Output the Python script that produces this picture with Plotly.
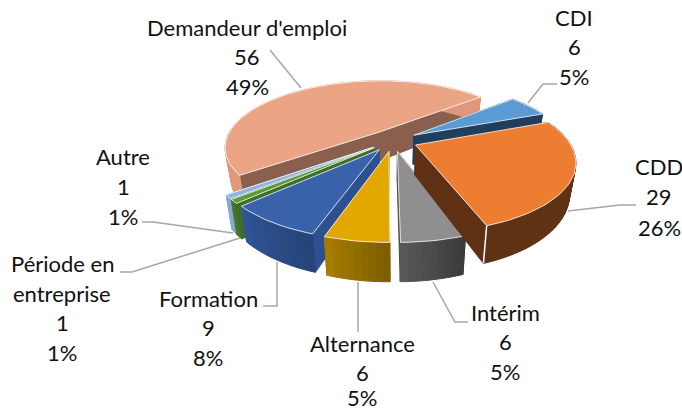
import numpy as np
import plotly.graph_objects as go

# ---- data ----
categories = ["CDI", "CDD", "Intérim", "Alternance", "Formation", "Période en entreprise", "Autre", "Demandeur d'emploi"]
values = [6, 29, 6, 6, 9, 1, 1, 56]
percents = ["5%", "26%", "5%", "5%", "8%", "1%", "1%", "49%"]
label_lines = [["CDI"], ["CDD"], ["Intérim"], ["Alternance"], ["Formation"], ["Période en", "entreprise"], ["Autre"], ["Demandeur d'emploi"]]

# ---- styles ----
top_col = ["#5B9BD5", "#ED7D31", "#8F8F8F", "#E2A800", "#3A62AA", "#5A9A3A", "#8FB4DE", "#EBA585"]
radial_col = ["#1F3F5C", "#5F3013", "#4A4A4A", "#8A6A00", "#2E5090", "#3F6F27", "#86A9D0", "#8B5F4D"]
wall_a = [(31, 63, 92), (96, 50, 20), (88, 88, 88), (166, 124, 0), (47, 85, 151), (70, 120, 45), (134, 169, 208), (224, 152, 122)]
wall_b = [(31, 63, 92), (96, 50, 20), (60, 60, 60), (125, 95, 0), (38, 68, 120), (63, 111, 39), (134, 169, 208), (224, 152, 122)]
START = 50.0
CX, CY = 393.0, 140.5
RX, RY, P = 153.0, 66.0, 0.216
EXPL, DEPTH, FOOT = 0.16, 29.5, 0.965
LEADER = "#A6A6A6"
FONT = "Lato"
FSIZE = 22
label_pos = {
    "CDI": (574, [17, 46, 76]), "CDD": (659, [166, 196, 227]), "Intérim": (505, [312, 341, 371]),
    "Alternance": (362, [343, 372, 397]), "Formation": (208, [298, 327, 357]),
    "Période en entreprise": (62, [263, 293, 322, 352]), "Autre": (123, [156, 186, 216]),
    "Demandeur d'emploi": (247, [27, 56, 86]),
}
leaders = {
    "CDI": [(528, 103), (543, 84), (557, 84)],
    "CDD": [(568, 211), (620, 205), (636, 205)],
    "Intérim": [(433, 282), (455, 322), (468, 322)],
    "Alternance": [(358, 282), (358, 332)],
    "Formation": [(277, 262), (277, 306), (263, 306)],
    "Période en entreprise": [(240, 238), (132, 272), (120, 272)],
    "Autre": [(233, 233), (153, 222), (142, 222)],
    "Demandeur d'emploi": [(301, 88), (270, 50)],
}


def project(u, v, low=False):
    s = 1.0 / (1.0 - P * np.asarray(v))
    sx = RX * np.asarray(u) * s
    sy = RY * np.asarray(v) * s
    if low:
        return CX + sx * FOOT, CY + sy + DEPTH * s
    return CX + sx, CY + sy


fig = go.Figure()


def poly(xs, ys, color, line=None, width=1):
    fig.add_trace(go.Scatter(
        x=list(xs) + [xs[0]], y=list(ys) + [ys[0]], mode="lines", fill="toself",
        fillcolor=color, line=dict(color=line or color, width=width),
        hoverinfo="skip", showlegend=False))


def mix(a, b, t):
    return "rgb(%d,%d,%d)" % tuple(a[i] + (b[i] - a[i]) * t for i in range(3))


total = sum(values)
edges = START + np.concatenate([[0], np.cumsum(values)]) * 360.0 / total
slices = [(edges[i], edges[i + 1]) for i in range(len(values))]
order = [7, 0, 6, 5, 4, 3, 2, 1]  # back to front

for i in order:
    a0, a1 = slices[i]
    mid = np.radians((a0 + a1) / 2)
    ou, ov = EXPL * np.sin(mid), -EXPL * np.cos(mid)
    th = np.radians(np.linspace(a0, a1, max(4, int((a1 - a0) / 2) + 1)))
    u = ou + np.sin(th)
    v = ov - np.cos(th)
    ends = sorted([0, -1], key=lambda k: v[k])
    for k in ends:
        xa, ya = project([ou, u[k]], [ov, v[k]])
        xb, yb = project([ou, u[k]], [ov, v[k]], low=True)
        poly([xa[0], xa[1], xb[1], xb[0]], [ya[0], ya[1], yb[1], yb[0]], radial_col[i])
    xa, ya = project(u, v)
    xb, yb = project(u, v, low=True)
    n = len(u) - 1
    for k in range(n):
        c = mix(wall_a[i], wall_b[i], 1 - k / max(n - 1, 1))
        poly([xa[k], xa[k + 1], xb[k + 1], xb[k]], [ya[k], ya[k + 1], yb[k + 1], yb[k]], c)
    if categories[i] == "CDD":
        fig.add_trace(go.Scatter(x=[xa[-1], xb[-1]], y=[ya[-1], yb[-1]], mode="lines",
                                 line=dict(color="white", width=1.5), hoverinfo="skip", showlegend=False))
    ax, ay = project(ou, ov)
    poly([float(ax)] + list(xa), [float(ay)] + list(ya), top_col[i], line="rgba(255,255,255,0.8)", width=1)

for name, pts in leaders.items():
    fig.add_trace(go.Scatter(x=[p[0] for p in pts], y=[p[1] for p in pts], mode="lines",
                             line=dict(color=LEADER, width=1.5), hoverinfo="skip", showlegend=False))

anns = []
for name, lines, val, pct in zip(categories, label_lines, values, percents):
    x, ys = label_pos[name]
    for t, y in zip(lines + [str(val), pct], ys):
        anns.append(dict(x=x, y=y, text=t, showarrow=False, xanchor="center", yanchor="middle",
                         font=dict(family=FONT, size=FSIZE, color="#111111")))

fig.update_layout(
    width=682, height=412, margin=dict(l=0, r=0, t=0, b=0),
    paper_bgcolor="white", plot_bgcolor="white", showlegend=False, annotations=anns,
    xaxis=dict(range=[0, 682], visible=False, fixedrange=True),
    yaxis=dict(range=[412, 0], visible=False, fixedrange=True),
)
fig.write_html("out.html", config={"displayModeBar": False},
               post_script="document.body.style.margin='0';document.documentElement.style.overflow='hidden';")
